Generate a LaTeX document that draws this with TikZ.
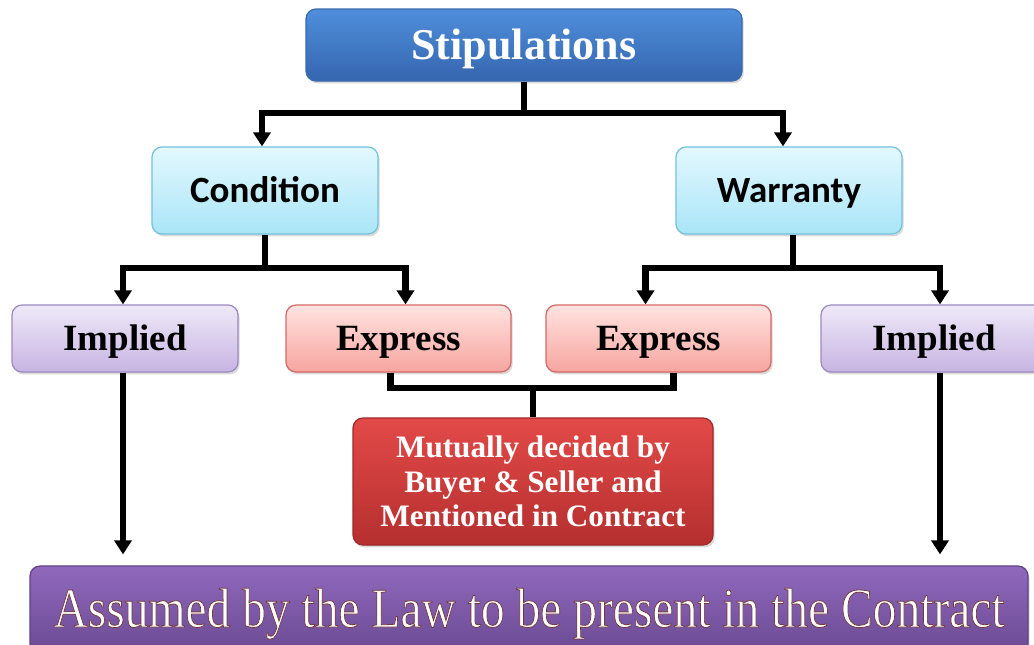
\documentclass[tikz,border=0pt]{standalone}
\usepackage{fontspec}
\setmainfont{Liberation Serif}
\newfontfamily\calibri{Carlito}
\usetikzlibrary{arrows.meta,shadows,calc}
\definecolor{stipT}{HTML}{4F8FDC}\definecolor{stipB}{HTML}{3565AE}\definecolor{stipD}{HTML}{3A6AB0}
\definecolor{cyT}{HTML}{E3F8FE}\definecolor{cyB}{HTML}{A9E5F7}\definecolor{cyD}{HTML}{72C2DC}
\definecolor{lvT}{HTML}{EFE9F8}\definecolor{lvB}{HTML}{C7B4E2}\definecolor{lvD}{HTML}{9D89C2}
\definecolor{pkT}{HTML}{FFE3E1}\definecolor{pkB}{HTML}{F7A59F}\definecolor{pkD}{HTML}{D46A66}
\definecolor{rdT}{HTML}{E24A48}\definecolor{rdB}{HTML}{B52F2F}\definecolor{rdD}{HTML}{A02828}
\definecolor{puT}{HTML}{9068BD}\definecolor{puB}{HTML}{6A4A92}\definecolor{puD}{HTML}{5E4285}
\newcommand{\outlined}[1]{\special{pdf:literal direct 2 Tr 0.35 w 0.45 0.22 0.22 RG}#1\special{pdf:literal direct 0 Tr}}
\begin{document}
\begin{tikzpicture}[x=0.5pt,y=-0.5pt,
  box/.style={rectangle,rounded corners=5pt,line width=0.6pt,inner sep=0pt,align=center,
    drop shadow={opacity=0.3,shadow xshift=0.8pt,shadow yshift=-1.2pt}},
  stipbox/.style={box,draw=stipD,top color=stipT,bottom color=stipB,text=white,
    text height=14.5pt,text depth=-2pt,
    minimum width=218pt,minimum height=36pt,font=\bfseries\fontsize{22}{24}\selectfont},
  cybox/.style={box,draw=cyD,top color=cyT,bottom color=cyB,text height=11.9pt,text depth=0pt,
    minimum width=113pt,minimum height=43.5pt,font=\calibri\bfseries\fontsize{18.5}{20}\selectfont},
  lvbox/.style={box,draw=lvD,top color=lvT,bottom color=lvB,text height=12.2pt,text depth=-0.5pt,
    minimum width=113pt,minimum height=33.5pt,font=\bfseries\fontsize{18.5}{20}\selectfont},
  pkbox/.style={box,draw=pkD,top color=pkT,bottom color=pkB,text height=12.2pt,text depth=-0.5pt,
    minimum width=112.5pt,minimum height=33.5pt,font=\bfseries\fontsize{18.5}{20}\selectfont},
  rdbox/.style={box,draw=rdD,top color=rdT,bottom color=rdB,text=white,
    minimum width=180pt,minimum height=63.5pt,font=\bfseries\fontsize{15.6}{17.2}\selectfont},
  pubox/.style={box,draw=puD,top color=puT,bottom color=puB,text=white,
    minimum width=499pt,minimum height=44pt},
  line/.style={line width=3.2pt,draw=black},
  arr/.style={line,-{Triangle[width=8.5pt,length=7pt]}}]
\useasboundingbox (0,0) rectangle (1034,644);
\clip (0,0) rectangle (1034,644);
\node[stipbox] (stip) at (524,45) {Stipulations};
\node[cybox] (cond) at (265,190.5) {Condition};
\node[cybox] (warr) at (789,190.5) {Warranty};
\node[lvbox] (imp1) at (125,338.5) {Implied};
\node[pkbox] (exp1) at (398.5,338.5) {Express};
\node[pkbox] (exp2) at (658.5,338.5) {Express};
\node[lvbox] (imp2) at (934,338.5) {Implied};
\node[rdbox] (red) at (533,481.5) {Mutually decided by\\Buyer \& Seller and\\Mentioned in Contract};
\node[pubox,text height=17pt,text depth=0pt] (bar) at (529,610) {\fontsize{25}{27}\selectfont\scalebox{0.95}[1.12]{\outlined{Assumed by the Law to be present in the Contract}}};
\coordinate (b1) at (0,113);
\coordinate (b2) at (0,268);
\coordinate (b3) at (0,388);
\coordinate (e1) at ([xshift=-4pt]exp1.south);
\coordinate (e2) at ([xshift=7.5pt]exp2.south);
% level 1
\draw[line] (stip.south) -- (stip.south |- b1);
\draw[arr] (stip.south |- b1) -| ([xshift=-1.5pt]cond.north);
\draw[arr] (stip.south |- b1) -| ([xshift=-3pt]warr.north);
% level 2
\draw[line] (cond.south) -- (cond.south |- b2);
\draw[arr] (cond.south |- b2) -| ([xshift=-1pt]imp1.north);
\draw[arr] (cond.south |- b2) -| ([xshift=3.5pt]exp1.north);
\draw[line] ([xshift=2pt]warr.south) -- ([xshift=2pt]warr.south |- b2);
\draw[arr] ([xshift=2pt]warr.south |- b2) -| ([xshift=-6.5pt]exp2.north);
\draw[arr] ([xshift=2pt]warr.south |- b2) -| ([xshift=3pt]imp2.north);
% express to red
\draw[line] (e1) |- (b3 -| e2) -- (e2);
\draw[line] (red.north |- b3) -- (red.north);
% implied to bar
\draw[arr,shorten >=5.5pt] ([xshift=-1pt]imp1.south) -- ([xshift=-1pt]imp1.south |- bar.north);
\draw[arr,shorten >=5.5pt] ([xshift=3pt]imp2.south) -- ([xshift=3pt]imp2.south |- bar.north);
\end{tikzpicture}
\end{document}
